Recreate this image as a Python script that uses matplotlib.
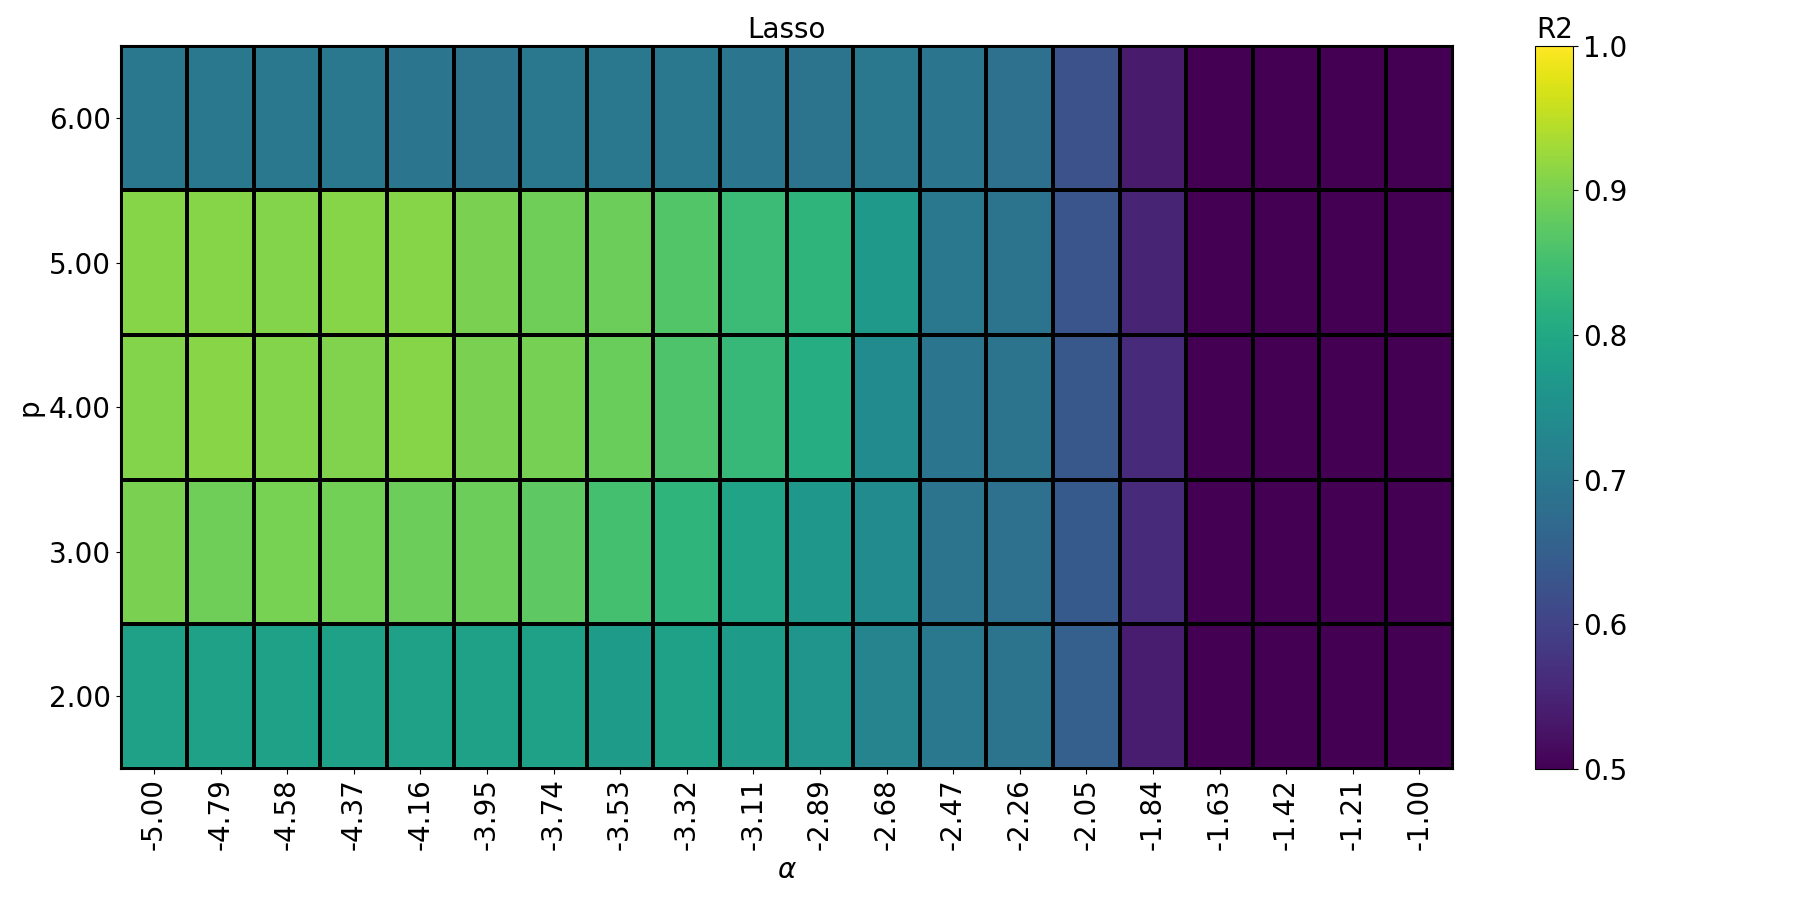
import numpy as np
import matplotlib
matplotlib.use("Agg")
import matplotlib.pyplot as plt

# alpha (log10) columns and polynomial degree rows
alphas = [-5.00, -4.79, -4.58, -4.37, -4.16, -3.95, -3.74, -3.53, -3.32, -3.11,
          -2.89, -2.68, -2.47, -2.26, -2.05, -1.84, -1.63, -1.42, -1.21, -1.00]
degrees = [2, 3, 4, 5, 6]

# R2 scores (rows follow degrees)
r2_p2 = [0.785, 0.785, 0.785, 0.785, 0.785, 0.785, 0.785, 0.775, 0.785, 0.775,
         0.760, 0.725, 0.700, 0.690, 0.650, 0.540, 0.45, 0.45, 0.45, 0.45]
r2_p3 = [0.900, 0.890, 0.897, 0.893, 0.887, 0.887, 0.875, 0.850, 0.825, 0.790,
         0.765, 0.740, 0.690, 0.685, 0.640, 0.560, 0.45, 0.45, 0.45, 0.45]
r2_p4 = [0.907, 0.912, 0.907, 0.905, 0.910, 0.900, 0.895, 0.885, 0.860, 0.835,
         0.810, 0.740, 0.695, 0.690, 0.635, 0.560, 0.45, 0.45, 0.45, 0.45]
r2_p5 = [0.910, 0.910, 0.908, 0.910, 0.910, 0.900, 0.890, 0.887, 0.865, 0.840,
         0.825, 0.770, 0.700, 0.690, 0.630, 0.550, 0.45, 0.45, 0.45, 0.45]
r2_p6 = [0.700, 0.700, 0.700, 0.700, 0.695, 0.690, 0.700, 0.700, 0.700, 0.695,
         0.690, 0.700, 0.695, 0.685, 0.625, 0.537, 0.45, 0.45, 0.45, 0.45]

scores = np.array([r2_p2, r2_p3, r2_p4, r2_p5, r2_p6])

fig = plt.figure(figsize=(18, 9), dpi=100)
ax = fig.add_axes([0.067, 0.146, 0.74, 0.803])
cax = fig.add_axes([0.853, 0.146, 0.021, 0.803])

xe = np.arange(len(alphas) + 1) - 0.5
ye = np.arange(len(degrees) + 1) - 0.5
mesh = ax.pcolormesh(xe, ye, scores, cmap="viridis", vmin=0.5, vmax=1.0,
                     edgecolors="black", linewidth=1.5)

ax.set_xticks(np.arange(len(alphas)))
ax.set_xticklabels([f"{a:.2f}" for a in alphas], rotation=90, fontsize=20)
ax.set_yticks(np.arange(len(degrees)))
ax.set_yticklabels([f"{d:.2f}" for d in degrees], fontsize=20)
ax.set_xlabel(r"$\alpha$", fontsize=20)
ax.set_ylabel("p", fontsize=20)
ax.set_title("Lasso", fontsize=20)
for s in ax.spines.values():
    s.set_linewidth(1.5)

cbar = fig.colorbar(mesh, cax=cax)
cbar.set_ticks([0.5, 0.6, 0.7, 0.8, 0.9, 1.0])
cbar.ax.tick_params(labelsize=20)
cbar.ax.set_title("R2", fontsize=20)

fig.savefig("out.png")
